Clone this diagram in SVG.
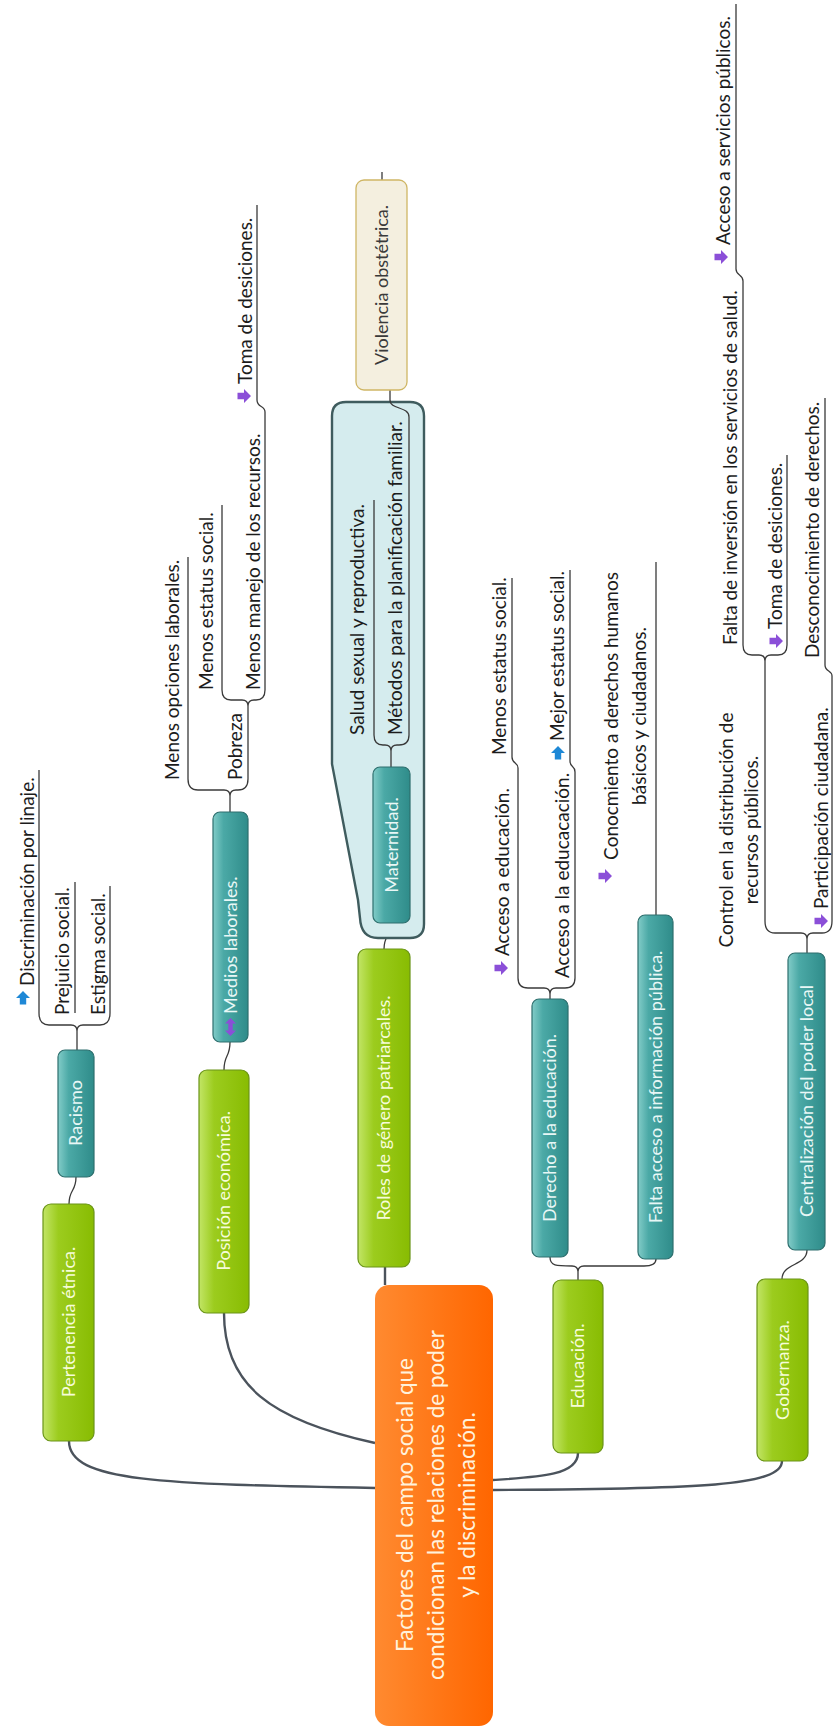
<svg xmlns="http://www.w3.org/2000/svg" width="834" height="1731" viewBox="0 0 834 1731">
<defs>
<style>
.lf{font-family:Lato,"Open Sans",sans-serif;font-size:19px;fill:#1c1c1c}
.bx{font-family:Lato,"Open Sans",sans-serif;font-size:18px;text-anchor:middle}
.wg{fill:#f6fcd8}
.wt{fill:#e8f7f6}
.gb{fill:url(#gG);stroke:#6a9418;stroke-width:1.2}
.tb{fill:url(#gT);stroke:#2e6f6e;stroke-width:1.2}
.ln{fill:none;stroke:#3a3a3a;stroke-width:1.3}
.mc{fill:none;stroke:#4b535c;stroke-width:2.4}
</style>
<linearGradient id="gG" x1="0" y1="0" x2="1" y2="0">
<stop offset="0" stop-color="#c2e566"/><stop offset="0.3" stop-color="#9ccc1e"/><stop offset="1" stop-color="#88bc02"/>
</linearGradient>
<linearGradient id="gT" x1="0" y1="0" x2="1" y2="0">
<stop offset="0" stop-color="#82ccc8"/><stop offset="0.3" stop-color="#4ba9a6"/><stop offset="1" stop-color="#2f8c8a"/>
</linearGradient>
<linearGradient id="gO" x1="0" y1="0" x2="1" y2="0">
<stop offset="0" stop-color="#ff8a30"/><stop offset="1" stop-color="#ff6600"/>
</linearGradient>
<path id="ar" d="M-6.5,-3.2 L0,-3.2 L0,-7 L7,0 L0,7 L0,3.2 L-6.5,3.2 Z" fill="#8b4fd8"/>
<path id="au" d="M-3.2,6.5 L-3.2,0 L-7,0 L0,-7 L7,0 L3.2,0 L3.2,6.5 Z" fill="#1e88d6"/>
<path id="aud" d="M0,-9 L5.5,-3.5 L2.2,-3.5 L2.2,3.5 L5.5,3.5 L0,9 L-5.5,3.5 L-2.2,3.5 L-2.2,-3.5 L-5.5,-3.5 Z" fill="#8b4fd8"/>
</defs>
<rect width="834" height="1731" fill="#ffffff"/>

<g id="connectors">
<path class="mc" d="M69,1441 C69,1482 160,1484 375,1488"/>
<path class="mc" d="M224,1313 C224,1385 270,1420 375,1443"/>
<path class="mc" d="M385,1267 L385,1285"/>
<path class="mc" d="M578,1453 C578,1475 540,1477 493,1480"/>
<path class="mc" d="M782,1461 C782,1486 700,1489 493,1490"/>
<!-- racismo -->
<path class="ln" d="M76,1177 C76,1192 69,1189 69,1204"/>
<path class="ln" d="M39,770 L39,1013 Q39,1025 49,1025 L71,1025 Q77,1025 77,1031 Q77,1025 83,1025 L100,1025 Q110,1025 110,1013 L110,886 M75,882 L75,1013 M77,1031 L77,1050"/>
<!-- posicion -->
<path class="ln" d="M230,1042 C230,1058 224,1054 224,1070"/>
<path class="ln" d="M188,557 L188,779 Q188,790 198,790 L224,790 Q230,790 230,796 Q230,790 236,790 L238,790 Q248,790 248,779 L248,706 M230,796 L230,812"/>
<path class="ln" d="M222,505 L222,690 Q222,700 231,700 L242,700 Q248,700 248,706 Q248,700 254,700 L256,700 Q265,700 265,690 L265,412 C265,405 257,408 257,400 L257,205"/>
<!-- roles -->
<path class="ln" d="M391,923 C391,938 384,934 384,949"/>
<!-- educacion -->
<path class="ln" d="M550,1257 C550,1266 556,1266 572,1266 Q578,1266 578,1272 Q578,1266 584,1266 L644,1266 C652,1266 656,1264 656,1259 M578,1272 L578,1280"/>
<path class="ln" d="M518,768 L518,978 Q518,988 528,988 L544,988 Q550,988 550,994 Q550,988 556,988 L565,988 Q575,988 575,978 L575,772 C575,765 570,768 570,761 L570,570 M550,994 L550,999"/>
<path class="ln" d="M518,768 C518,762 512,764 512,757 L512,578"/>
<path class="ln" d="M656,915 L656,562"/>
<!-- gobernanza -->
<path class="ln" d="M807,1250 C807,1266 782,1263 782,1279"/>
<path class="ln" d="M765,921 Q765,933 775,933 L801,933 Q807,933 807,939 Q807,933 813,933 L822,933 Q832,933 832,921 L832,676 C832,670 825,672 825,665 L825,398 M807,939 L807,953"/>
<path class="ln" d="M765,921 L765,661 M743,645 Q743,655 752,655 L759,655 Q765,655 765,661 Q765,655 771,655 L778,655 Q787,655 787,645 L787,455 M743,645 L743,281 C743,274 736,276 736,269 L736,4"/>
</g>

<g id="root">
<rect x="375" y="1285" width="118" height="441" rx="14" fill="url(#gO)"/>
<g font-family="Lato, 'Open Sans', sans-serif" font-size="22.5" fill="#fff2dc" text-anchor="middle">
<text transform="translate(413,1505) rotate(-90)">Factores del campo social que</text>
<text transform="translate(444,1505) rotate(-90)">condicionan las relaciones de poder</text>
<text transform="translate(475,1505) rotate(-90)">y la discriminación.</text>
</g>
</g>

<g id="n-pertenencia">
<rect class="gb" x="43" y="1204" width="51" height="237" rx="8"/>
<text class="bx wg" transform="translate(68.5,1322) rotate(-90)" dy="0.35em">Pertenencia étnica.</text>
</g>
<g id="n-racismo">
<rect class="tb" x="58" y="1050" width="36" height="127" rx="7"/>
<text class="bx wt" transform="translate(76,1113) rotate(-90)" dy="0.35em">Racismo</text>
</g>
<g id="n-discriminacion">
<use href="#au" x="23" y="998"/>
<text class="lf" transform="translate(34,986) rotate(-90)">Discriminación por linaje.</text>
</g>
<g id="n-prejuicio"><text class="lf" transform="translate(69,1015) rotate(-90)">Prejuicio social.</text></g>
<g id="n-estigma"><text class="lf" transform="translate(105,1015) rotate(-90)">Estigma social.</text></g>

<g id="n-posicion">
<rect class="gb" x="199" y="1070" width="50" height="243" rx="8"/>
<text class="bx wg" transform="translate(224,1191) rotate(-90)" dy="0.35em">Posición económica.</text>
</g>
<g id="n-medios">
<rect class="tb" x="213" y="812" width="35" height="230" rx="7"/>
<use href="#aud" x="230.5" y="1027"/>
<text class="bx wt" transform="translate(230.5,1014) rotate(-90)" dy="0.35em" text-anchor="start" style="text-anchor:start">Medios laborales.</text>
</g>
<g id="n-opciones"><text class="lf" transform="translate(179,780) rotate(-90)">Menos opciones laborales.</text></g>
<g id="n-pobreza"><text class="lf" transform="translate(242,780) rotate(-90)">Pobreza</text></g>
<g id="n-estatus1"><text class="lf" transform="translate(213,690) rotate(-90)">Menos estatus social.</text></g>
<g id="n-manejo"><text class="lf" transform="translate(260,690) rotate(-90)">Menos manejo de los recursos.</text></g>
<g id="n-toma1">
<use href="#ar" x="244" y="396"/>
<text class="lf" transform="translate(252,384) rotate(-90)">Toma de desiciones.</text>
</g>

<g id="n-roles">
<rect class="gb" x="358" y="949" width="52" height="318" rx="8"/>
<text class="bx wg" transform="translate(384,1108) rotate(-90)" dy="0.35em">Roles de género patriarcales.</text>
</g>
<g id="boundary">
<path d="M346,402 L410,402 Q424,402 424,416 L424,924 Q424,938 410,938 L378,938 Q361,938 360,918 L358,900 L332,764 L332,416 Q332,402 346,402 Z" fill="#d5ecee" stroke="#3f5c5e" stroke-width="2.4"/>
</g>
<g id="connectors-mat">
<path class="ln" d="M374,500 L374,735 Q374,745 383,745 L385,745 Q391,745 391,751 Q391,745 397,745 L399,745 Q409,745 409,735 L409,417 C409,406 390,410 390,400 L390,390 M391,751 L391,767"/>
<path class="ln" d="M382,172 L382,180"/>
</g>
<g id="n-maternidad">
<rect class="tb" x="373" y="767" width="37" height="156" rx="7"/>
<text class="bx wt" transform="translate(391.5,845) rotate(-90)" dy="0.35em">Maternidad.</text>
</g>
<g id="n-salud"><text class="lf" transform="translate(364,735) rotate(-90)">Salud sexual y reproductiva.</text></g>
<g id="n-metodos"><text class="lf" transform="translate(402,735) rotate(-90)">Métodos para la planificación familiar.</text></g>
<g id="n-violencia">
<rect x="356" y="180" width="51" height="210" rx="8" fill="#f4efdf" stroke="#cfb665" stroke-width="1.3"/>
<text class="bx" fill="#3a3a3a" transform="translate(381.5,285) rotate(-90)" dy="0.35em">Violencia obstétrica.</text>
</g>

<g id="n-educacion">
<rect class="gb" x="553" y="1280" width="50" height="173" rx="8"/>
<text class="bx wg" transform="translate(578,1366) rotate(-90)" dy="0.35em">Educación.</text>
</g>
<g id="n-derecho">
<rect class="tb" x="532" y="999" width="36" height="258" rx="7"/>
<text class="bx wt" transform="translate(550,1128) rotate(-90)" dy="0.35em">Derecho a la educación.</text>
</g>
<g id="n-falta">
<rect class="tb" x="638" y="915" width="35" height="344" rx="7"/>
<text class="bx wt" transform="translate(655.5,1087) rotate(-90)" dy="0.35em">Falta acceso a información pública.</text>
</g>
<g id="n-acceso1">
<use href="#ar" x="501" y="968"/>
<text class="lf" transform="translate(509,956) rotate(-90)">Acceso a educación.</text>
</g>
<g id="n-estatus2"><text class="lf" transform="translate(506,755) rotate(-90)">Menos estatus social.</text></g>
<g id="n-acceso2"><text class="lf" transform="translate(569,978) rotate(-90)">Acceso a la educacación.</text></g>
<g id="n-mejor">
<use href="#au" x="558" y="753"/>
<text class="lf" transform="translate(564,741) rotate(-90)">Mejor estatus social.</text>
</g>
<g id="n-conocimiento">
<use href="#ar" x="605" y="876"/>
<text class="lf" text-anchor="middle" transform="translate(618,716) rotate(-90)">Conocmiento a derechos humanos</text>
<text class="lf" text-anchor="middle" transform="translate(646,716) rotate(-90)">básicos y ciudadanos.</text>
</g>

<g id="n-gobernanza">
<rect class="gb" x="757" y="1279" width="51" height="182" rx="8"/>
<text class="bx wg" transform="translate(782.5,1370) rotate(-90)" dy="0.35em">Gobernanza.</text>
</g>
<g id="n-centralizacion">
<rect class="tb" x="788" y="953" width="37" height="297" rx="7"/>
<text class="bx wt" transform="translate(806.5,1101) rotate(-90)" dy="0.35em">Centralización del poder local</text>
</g>
<g id="n-control">
<text class="lf" text-anchor="middle" transform="translate(733,830) rotate(-90)">Control en la distribución de</text>
<text class="lf" text-anchor="middle" transform="translate(758,830) rotate(-90)">recursos públicos.</text>
</g>
<g id="n-participacion">
<use href="#ar" x="821" y="921"/>
<text class="lf" transform="translate(828,909) rotate(-90)">Participación ciudadana.</text>
</g>
<g id="n-desconocimiento"><text class="lf" transform="translate(819,658) rotate(-90)">Desconocimiento de derechos.</text></g>
<g id="n-inversion"><text class="lf" transform="translate(737,645) rotate(-90)">Falta de inversión en los servicios de salud.</text></g>
<g id="n-acceso3">
<use href="#ar" x="721" y="257"/>
<text class="lf" transform="translate(730,245) rotate(-90)">Acceso a servicios públicos.</text>
</g>
<g id="n-toma2">
<use href="#ar" x="776" y="641"/>
<text class="lf" transform="translate(782,629) rotate(-90)">Toma de desiciones.</text>
</g>
</svg>
